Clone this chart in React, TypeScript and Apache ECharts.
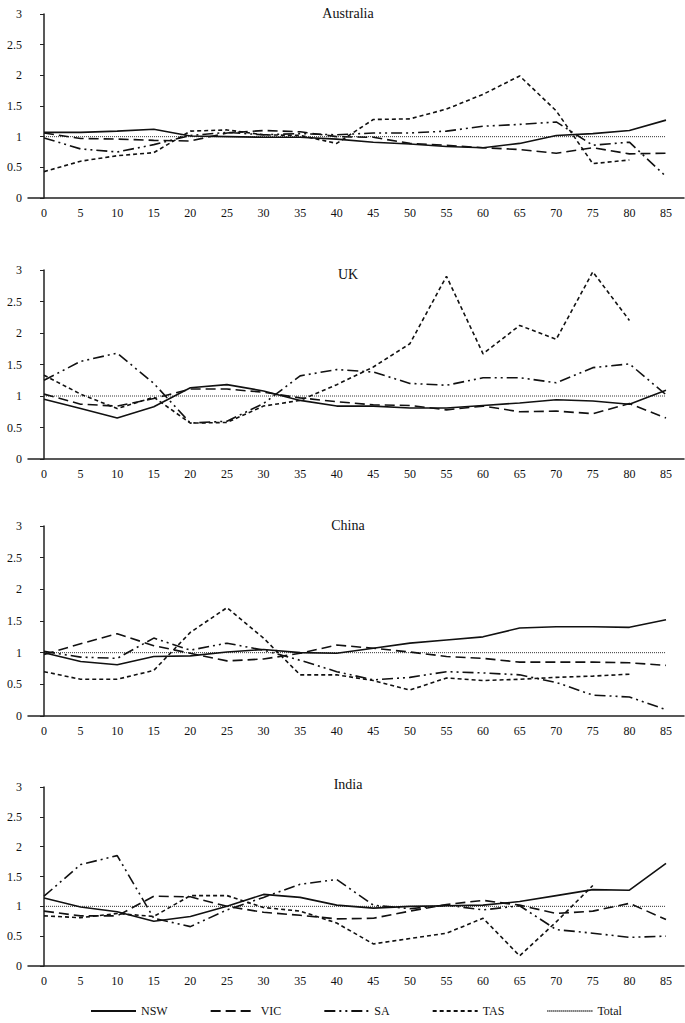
import React, { useEffect, useRef } from "react";
import * as echarts from "echarts";

const ages = [0, 5, 10, 15, 20, 25, 30, 35, 40, 45, 50, 55, 60, 65, 70, 75, 80, 85];
const countries = ["Australia", "UK", "China", "India"];
const seriesNames = ["NSW", "VIC", "SA", "TAS", "Total"];
const yTicks = [0, 0.5, 1, 1.5, 2, 2.5, 3];

const ausNSW = [1.07, 1.07, 1.09, 1.12, 1.01, 1.0, 0.99, 0.99, 0.96, 0.91, 0.88, 0.84, 0.82, 0.89, 1.02, 1.05, 1.1, 1.27];
const ausVIC = [1.06, 0.97, 0.96, 0.94, 0.93, 1.06, 1.1, 1.08, 1.0, 0.99, 0.89, 0.86, 0.82, 0.79, 0.73, 0.82, 0.72, 0.73];
const ausSA = [0.98, 0.8, 0.75, 0.87, 1.02, 1.07, 1.03, 1.05, 1.03, 1.06, 1.06, 1.09, 1.17, 1.2, 1.24, 0.86, 0.91, 0.35];
const ausTAS = [0.43, 0.6, 0.69, 0.74, 1.09, 1.11, 1.03, 1.02, 0.89, 1.28, 1.29, 1.45, 1.69, 1.99, 1.42, 0.56, 0.62, null];

const ukNSW = [0.95, 0.8, 0.65, 0.83, 1.13, 1.18, 1.08, 0.93, 0.84, 0.84, 0.81, 0.81, 0.85, 0.89, 0.94, 0.92, 0.87, 1.09];
const ukVIC = [1.03, 0.87, 0.84, 0.96, 1.11, 1.11, 1.06, 0.97, 0.91, 0.86, 0.85, 0.78, 0.84, 0.75, 0.76, 0.72, 0.88, 0.65];
const ukSA = [1.25, 1.55, 1.68, 1.2, 0.57, 0.6, 0.88, 1.32, 1.42, 1.38, 1.2, 1.17, 1.29, 1.29, 1.21, 1.45, 1.51, 1.02];
const ukTAS = [1.33, 1.03, 0.8, 0.98, 0.57, 0.58, 0.84, 0.93, 1.18, 1.46, 1.83, 2.9, 1.67, 2.12, 1.9, 2.97, 2.2, null];

const cnNSW = [1.0, 0.86, 0.81, 0.94, 0.95, 1.01, 1.05, 1.0, 0.99, 1.07, 1.15, 1.2, 1.25, 1.39, 1.41, 1.41, 1.4, 1.52];
const cnVIC = [0.97, 1.14, 1.3, 1.11, 0.99, 0.87, 0.9, 0.99, 1.12, 1.07, 1.01, 0.94, 0.91, 0.85, 0.85, 0.85, 0.84, 0.8];
const cnSA = [1.02, 0.93, 0.91, 1.23, 1.04, 1.15, 1.04, 0.88, 0.7, 0.57, 0.61, 0.7, 0.68, 0.65, 0.53, 0.33, 0.3, 0.1];
const cnTAS = [0.7, 0.58, 0.58, 0.72, 1.32, 1.71, 1.23, 0.65, 0.65, 0.56, 0.41, 0.6, 0.56, 0.58, 0.61, 0.63, 0.66, null];

const inNSW = [1.14, 0.99, 0.91, 0.75, 0.83, 1.0, 1.2, 1.15, 1.02, 0.97, 1.0, 1.01, 1.02, 1.08, 1.18, 1.28, 1.27, 1.72];
const inVIC = [0.92, 0.84, 0.84, 1.17, 1.16, 1.0, 0.9, 0.85, 0.79, 0.8, 0.92, 1.03, 1.1, 1.02, 0.88, 0.92, 1.05, 0.78];
const inSA = [1.17, 1.7, 1.85, 0.8, 0.66, 0.94, 1.15, 1.37, 1.45, 1.02, 0.96, 1.02, 0.94, 1.01, 0.61, 0.55, 0.48, 0.5];
const inTAS = [0.84, 0.81, 0.88, 0.83, 1.18, 1.18, 0.98, 0.92, 0.72, 0.37, 0.46, 0.55, 0.8, 0.17, 0.74, 1.35, null, null];

const total = [1, 1, 1, 1, 1, 1, 1, 1, 1, 1, 1, 1, 1, 1, 1, 1, 1, 1];

const panelData = [
  [ausNSW, ausVIC, ausSA, ausTAS, total],
  [ukNSW, ukVIC, ukSA, ukTAS, total],
  [cnNSW, cnVIC, cnSA, cnTAS, total],
  [inNSW, inVIC, inSA, inTAS, total],
];

const FONT = "Liberation Serif";

const gridBoxes = [
  { top: 14, height: 184 },
  { top: 270, height: 189 },
  { top: 526, height: 190 },
  { top: 787, height: 179 },
];
const titleTops = [1, 262, 513, 772];

const lineStyles: any[] = [
  { type: "solid", width: 1.6, color: "#111" },
  { type: [10, 5], width: 1.6, color: "#111" },
  { type: [11, 4, 2, 4, 2, 4], width: 1.6, color: "#111" },
  { type: [4, 3], width: 1.6, color: "#111" },
  { type: [1, 1], width: 1, color: "#333" },
];

export default function App() {
  const ref = useRef<HTMLDivElement>(null);
  useEffect(() => {
    if (!ref.current) return;
    const chart = echarts.init(ref.current, null, { renderer: "svg" });
    const grids = gridBoxes.map((g) => ({ left: 28, right: 1, top: g.top, height: g.height, containLabel: false }));
    const xAxes = gridBoxes.map((_, i) => ({
      type: "value",
      gridIndex: i,
      min: -2.19,
      max: 87.46,
      splitLine: { show: false },
      axisTick: { show: false },
      axisLine: { show: true, onZero: false, lineStyle: { color: "#222", width: 1.5 } },
      axisLabel: {
        customValues: ages,
        margin: 9,
        fontFamily: FONT,
        fontSize: 12,
        color: "#111",
        formatter: (v: number) => String(v),
      },
    }));
    const yAxes = gridBoxes.map((_, i) => ({
      type: "value",
      gridIndex: i,
      min: 0,
      max: 3,
      interval: 0.5,
      splitLine: { show: false },
      axisLine: { show: true, lineStyle: { color: "#222", width: 1.5 } },
      axisTick: { show: true, length: 4, lineStyle: { color: "#222" } },
      axisLabel: {
        margin: 6,
        fontFamily: FONT,
        fontSize: 12,
        color: "#111",
        formatter: (v: number) => (yTicks.includes(v) ? String(v) : ""),
      },
    }));
    const series: any[] = [];
    panelData.forEach((arrs, gi) => {
      arrs.forEach((arr, si) => {
        series.push({
          type: "line",
          name: seriesNames[si],
          xAxisIndex: gi,
          yAxisIndex: gi,
          symbol: "none",
          showSymbol: false,
          connectNulls: false,
          lineStyle: lineStyles[si],
          itemStyle: { color: lineStyles[si].color },
          z: si === 4 ? 1 : 2,
          data: ages.map((a, k) => [a, arr[k]]),
        });
      });
    });
    chart.setOption({
      animation: false,
      backgroundColor: "#fff",
      title: countries.map((c, i) => ({
        text: c,
        left: 343,
        textAlign: "center",
        top: titleTops[i],
        textStyle: { fontFamily: FONT, fontSize: 14, fontWeight: "normal", color: "#111" },
      })),
      legend: {
        data: seriesNames,
        top: 1003,
        left: 88,
        padding: 2,
        itemWidth: 45,
        itemHeight: 10,
        itemGap: 42,
        itemStyle: { color: "rgba(0,0,0,0)", borderColor: "rgba(0,0,0,0)", borderWidth: 0, opacity: 0 },
        textStyle: { fontFamily: FONT, fontSize: 12, color: "#111" },
      },
      grid: grids,
      xAxis: xAxes,
      yAxis: yAxes,
      series,
    });
    return () => chart.dispose();
  }, []);
  return (
    <div
      ref={ref}
      style={{ position: "absolute", left: 0, top: 0, width: 685, height: 1023, background: "#fff" }}
    />
  );
}
